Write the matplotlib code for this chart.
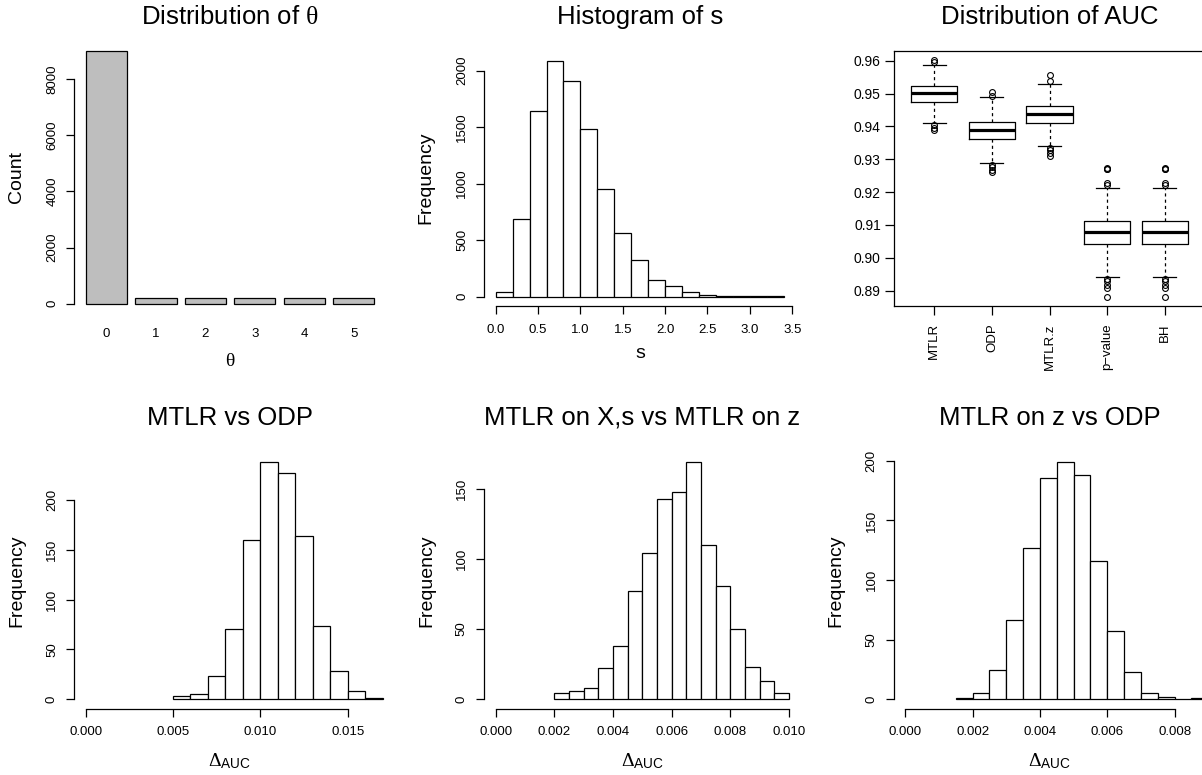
"""
plot.py - six-panel simulation summary (theta, s, AUC boxplot, AUC differences)
R base-graphics look, drawn with matplotlib.
"""

import numpy as np
import matplotlib
matplotlib.use("Agg")
import matplotlib.pyplot as plt

plt.rcParams["font.family"] = ["Liberation Sans", "DejaVu Sans"]
plt.rcParams["mathtext.fontset"] = "custom"
plt.rcParams["mathtext.rm"] = "Liberation Serif"
plt.rcParams["mathtext.sf"] = "Liberation Sans"
plt.rcParams["mathtext.it"] = "Liberation Serif:italic"
plt.rcParams["mathtext.bf"] = "Liberation Serif:bold"

# ── data ──
THETA_LEVELS = ["0", "1", "2", "3", "4", "5"]
THETA_COUNTS = [9000, 200, 200, 200, 200, 200]

S_START, S_WIDTH = 0.0, 0.2
S_COUNTS = [40, 690, 1640, 2090, 1910, 1480, 950, 560, 322, 145, 94, 44, 18, 8, 4, 3, 2]

AUC_METHODS = ["MTLR", "ODP", "MTLR.z", "p\u2212value", "BH"]
AUC_Q1 = [0.9476, 0.9363, 0.9410, 0.9041, 0.9041]
AUC_MED = [0.9502, 0.9390, 0.9437, 0.9079, 0.9079]
AUC_Q3 = [0.9522, 0.9415, 0.9461, 0.9111, 0.9111]
AUC_WLO = [0.9410, 0.9288, 0.9342, 0.8941, 0.8941]
AUC_WHI = [0.9586, 0.9490, 0.9530, 0.9212, 0.9212]
AUC_OUT = [
    [0.9602, 0.9596, 0.9405, 0.9396, 0.9388],
    [0.9506, 0.9494, 0.9284, 0.9276, 0.9268, 0.9262],
    [0.9556, 0.9537, 0.9335, 0.9327, 0.9319, 0.9311],
    [0.9272, 0.9273, 0.9271, 0.9227, 0.9222, 0.8935, 0.8930, 0.8917, 0.8909, 0.8882],
    [0.9272, 0.9273, 0.9271, 0.9227, 0.9222, 0.8935, 0.8930, 0.8917, 0.8909, 0.8882],
]

# MTLR vs ODP
D1_START, D1_WIDTH = 0.005, 0.001
D1_COUNTS = [3, 5, 23, 70, 160, 238, 227, 164, 73, 28, 8, 1]
# MTLR on X,s vs MTLR on z
D2_START, D2_WIDTH = 0.002, 0.0005
D2_COUNTS = [4, 6, 8, 22, 38, 77, 104, 143, 148, 169, 110, 81, 50, 23, 13, 4]
# MTLR on z vs ODP
D3_START, D3_WIDTH = 0.0015, 0.0005
D3_COUNTS = [1, 5, 24, 66, 127, 186, 199, 188, 116, 57, 23, 5, 2, 0, 1]

W, H = 1202, 775
LW = 0.9
TICK_FS = 9.5
LAB_FS = 14
TITLE_FS = 18.5
DELTA = r"$\mathrm{\Delta}_{\mathsf{AUC}}$"


def px_axes(fig, box):
    l, t, r, b = box
    return fig.add_axes([l / W, 1 - b / H, (r - l) / W, (b - t) / H])


def r_range(lo, hi):
    d = (hi - lo) * 0.04
    return lo - d, hi + d


def fig_text(fig, x, y, s, **kw):
    fig.text(x / W, 1 - y / H, s, **kw)


def r_axes(ax, xticks, xlabels, yticks):
    for side in ("top", "right"):
        ax.spines[side].set_visible(False)
    for side in ("left", "bottom"):
        ax.spines[side].set_linewidth(LW)
    ax.spines["left"].set_bounds(yticks[0], yticks[-1])
    ax.set_yticks(yticks)
    ax.set_yticklabels([str(v) for v in yticks], rotation=90, va="center")
    if xticks is not None:
        ax.spines["bottom"].set_bounds(xticks[0], xticks[-1])
        ax.set_xticks(xticks)
        ax.set_xticklabels(xlabels)
    ax.tick_params(axis="both", length=5.6, width=LW, labelsize=TICK_FS)
    ax.tick_params(axis="y", pad=6)
    ax.tick_params(axis="x", pad=7)


def hist(ax, start, width, counts):
    lefts = [start + width * i for i in range(len(counts))]
    ax.bar(lefts, counts, width=width, align="edge", color="white",
           edgecolor="black", linewidth=LW)
    return start, start + width * len(counts)


fig = plt.figure(figsize=(W / 100, H / 100), dpi=100)

# ── 1. Distribution of theta ──
ax1 = px_axes(fig, (74.4, 40.8, 385.8, 313.8))
xpos = [0.7 + 1.2 * i for i in range(len(THETA_COUNTS))]
ax1.bar(xpos, THETA_COUNTS, width=1.0, color="#BEBEBE", edgecolor="black", linewidth=LW)
ax1.set_xlim(*r_range(0.2, 7.2))
ax1.set_ylim(*r_range(0, max(THETA_COUNTS)))
r_axes(ax1, None, None, [0, 2000, 4000, 6000, 8000])
ax1.spines["bottom"].set_visible(False)
ax1.set_xticks(xpos)
ax1.set_xticklabels(THETA_LEVELS)
ax1.tick_params(axis="x", length=0, pad=10)
fig_text(fig, 230, 24, r"Distribution of $\mathrm{\theta}$", ha="center", va="baseline", fontsize=TITLE_FS)
fig_text(fig, 230, 366, r"$\mathrm{\theta}$", ha="center", va="baseline", fontsize=LAB_FS)
fig_text(fig, 17, 177, "Count", ha="center", va="center", rotation=90, fontsize=LAB_FS)

# ── 2. Histogram of s ──
ax2 = px_axes(fig, (484.2, 51.1, 795.2, 306.1))
lo, hi = hist(ax2, S_START, S_WIDTH, S_COUNTS)
ax2.set_xlim(*r_range(lo, hi))
ax2.set_ylim(*r_range(0, max(S_COUNTS)))
sx = [0.0, 0.5, 1.0, 1.5, 2.0, 2.5, 3.0, 3.5]
r_axes(ax2, sx, [f"{v:.1f}" for v in sx], [0, 500, 1000, 1500, 2000])
fig_text(fig, 640, 24, "Histogram of s", ha="center", va="baseline", fontsize=TITLE_FS)
fig_text(fig, 640, 358, "s", ha="center", va="baseline", fontsize=LAB_FS)
fig_text(fig, 426, 178, "Frequency", ha="center", va="center", rotation=90, fontsize=LAB_FS)

# ── 3. Distribution of AUC (boxplot) ──
ax3 = px_axes(fig, (894, 50.7, 1205, 306))
stats = []
for i, m in enumerate(AUC_METHODS):
    stats.append(dict(label=m, q1=AUC_Q1[i], med=AUC_MED[i], q3=AUC_Q3[i],
                      whislo=AUC_WLO[i], whishi=AUC_WHI[i], fliers=AUC_OUT[i]))
pos = list(range(1, len(AUC_METHODS) + 1))
ax3.bxp(stats, positions=pos, widths=0.8, capwidths=0.4,
        boxprops=dict(color="black", linewidth=LW),
        medianprops=dict(color="black", linewidth=2.3, solid_capstyle="butt"),
        whiskerprops=dict(color="black", linewidth=LW, linestyle=(0, (2.5, 2.5))),
        capprops=dict(color="black", linewidth=LW),
        flierprops=dict(marker="o", markerfacecolor="none", markeredgecolor="black",
                        markersize=4.2, markeredgewidth=0.8))
all_vals = AUC_WLO + AUC_WHI + [v for f in AUC_OUT for v in f]
ax3.set_xlim(*r_range(0.5, len(AUC_METHODS) + 0.5))
ax3.set_ylim(*r_range(min(all_vals), max(all_vals)))
ay = [0.89, 0.90, 0.91, 0.92, 0.93, 0.94, 0.95, 0.96]
ax3.set_yticks(ay)
ax3.set_yticklabels([f"{v:.2f}" for v in ay])
ax3.set_xticks(pos)
ax3.set_xticklabels(AUC_METHODS, rotation=90, va="top")
for sp in ax3.spines.values():
    sp.set_linewidth(LW)
ax3.tick_params(axis="both", length=6.5, width=LW, labelsize=TICK_FS)
ax3.tick_params(axis="y", labelsize=10, pad=3)
ax3.tick_params(axis="x", pad=6)
fig_text(fig, 1050, 24, "Distribution of AUC", ha="center", va="baseline", fontsize=TITLE_FS)

# ── 4-6. AUC differences ──
diff_panels = [
    ((74.1, 452.7, 385.5, 708.5), D1_START, D1_WIDTH, D1_COUNTS, 0.0165,
     [0.0, 0.005, 0.010, 0.015], "%.3f", [0, 50, 100, 150, 200], "MTLR vs ODP"),
    ((484, 453, 800.8, 708.5), D2_START, D2_WIDTH, D2_COUNTS, 0.010,
     [0.0, 0.002, 0.004, 0.006, 0.008, 0.010], "%.3f", [0, 50, 100, 150],
     "MTLR on X,s vs MTLR on z"),
    ((893.7, 452.7, 1205.4, 708.5), D3_START, D3_WIDTH, D3_COUNTS, 0.00857,
     [0.0, 0.002, 0.004, 0.006, 0.008], "%.3f", [0, 50, 100, 150, 200], "MTLR on z vs ODP"),
]
for box, start, width, counts, xmax, xt, fmt, yt, title in diff_panels:
    ax = px_axes(fig, box)
    hist(ax, start, width, counts)
    ax.set_xlim(*r_range(0, xmax))
    ax.set_ylim(*r_range(0, max(counts)))
    r_axes(ax, xt, [fmt % v for v in xt], yt)
    cx = (box[0] + box[2]) / 2
    fig_text(fig, cx, 425, title, ha="center", va="baseline", fontsize=TITLE_FS)
    fig_text(fig, cx, 766, DELTA, ha="center", va="baseline", fontsize=LAB_FS)
    fig_text(fig, box[0] - 57.5, (box[1] + box[3]) / 2, "Frequency", ha="center",
             va="center", rotation=90, fontsize=LAB_FS)

fig.savefig("out.png", dpi=100)
